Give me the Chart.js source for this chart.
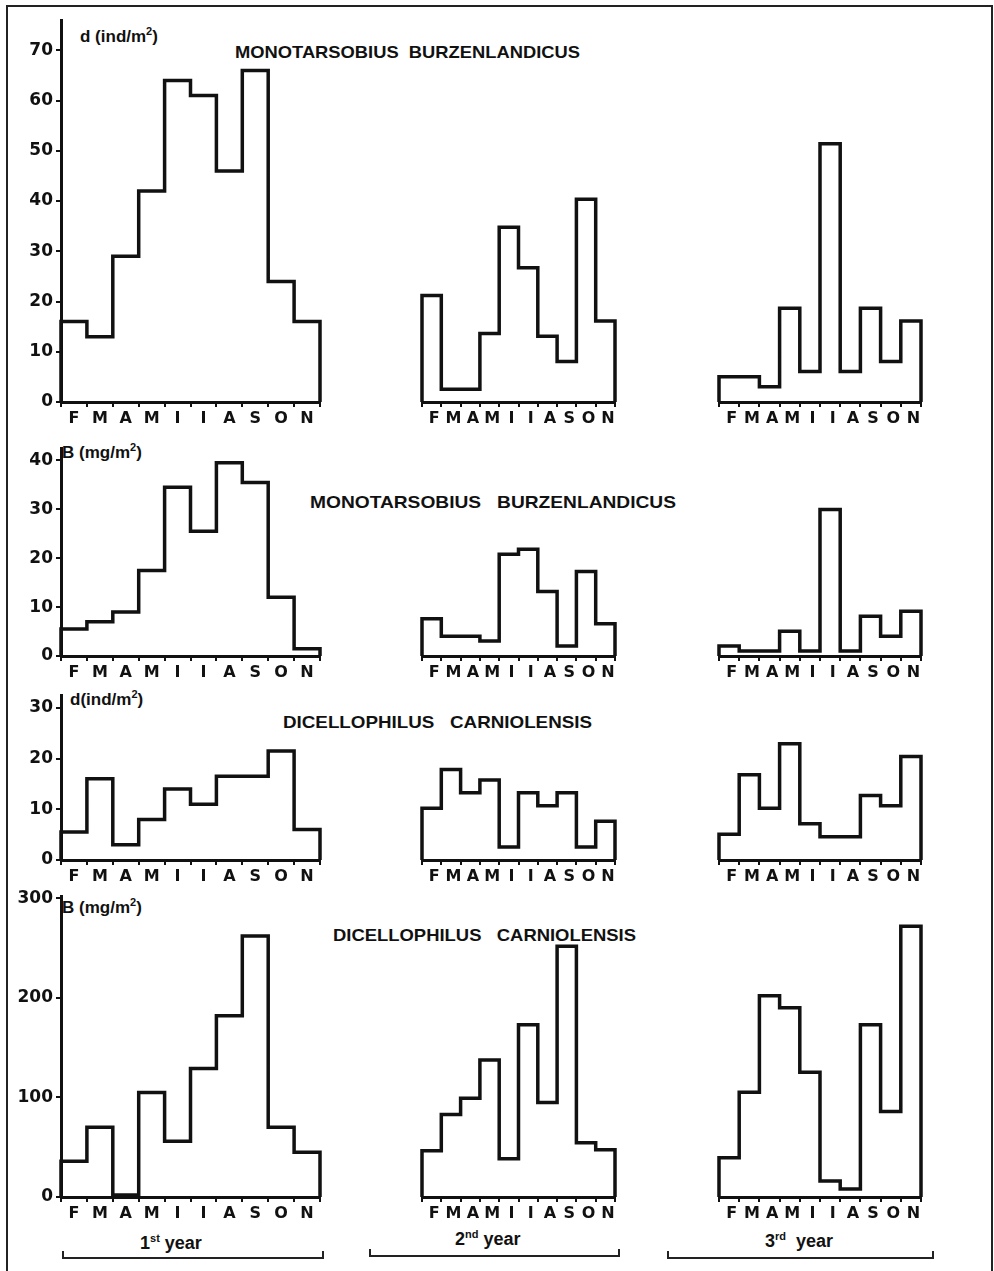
<!DOCTYPE html>
<html>
<head>
<meta charset="utf-8">
<script src="https://cdn.jsdelivr.net/npm/chart.js@4.4.0/dist/chart.umd.min.js"></script>
<style>
  body { margin: 0; background: #fff; }
  #page { position: relative; width: 994px; height: 1271px; overflow: hidden; background: #fff; color: #111; font-family: "Liberation Sans", "DejaVu Sans", sans-serif; }
  .frame { position: absolute; left: 6px; top: 5px; width: 987px; height: 1300px; border: 2px solid #222; box-sizing: border-box; }
  .panel { position: absolute; }
  .txt { position: absolute; white-space: pre; font-weight: bold; line-height: 1; transform-origin: left top; }
  .title { font-size: 17px; }
  .unit { font-size: 17px; }
  .unit sup, .year sup { font-size: 11px; vertical-align: 7px; }
  .year { font-size: 18px; font-weight: bold; }
  .bracket { position: absolute; height: 6px; border: 2px solid #222; border-top: none; }
</style>
</head>
<body>
<div id="page">
  <div class="frame"></div>

  <div class="txt unit" style="left:80px; top:26px;">d (ind/m<sup>2</sup>)</div>
  <div class="txt title" data-w="345" style="left:235px; top:44px;">MONOTARSOBIUS  BURZENLANDICUS</div>

  <div class="txt unit" style="left:62px; top:442px;">B (mg/m<sup>2</sup>)</div>
  <div class="txt title" data-w="366" style="left:310px; top:494px;">MONOTARSOBIUS   BURZENLANDICUS</div>

  <div class="txt unit" style="left:70px; top:689px;">d(ind/m<sup>2</sup>)</div>
  <div class="txt title" data-w="309" style="left:283px; top:714px;">DICELLOPHILUS   CARNIOLENSIS</div>

  <div class="txt unit" style="left:62px; top:897px;">B (mg/m<sup>2</sup>)</div>
  <div class="txt title" data-w="303" style="left:333px; top:927px;">DICELLOPHILUS   CARNIOLENSIS</div>

  <div class="txt year" style="left:140px; top:1233px;">1<sup>st</sup> year</div>
  <div class="txt year" style="left:455px; top:1229px;">2<sup>nd</sup> year</div>
  <div class="txt year" style="left:765px; top:1231px;">3<sup>rd</sup>  year</div>
  <div class="bracket" style="left:62px; top:1251px; width:258px;"></div>
  <div class="bracket" style="left:369px; top:1249px; width:247px;"></div>
  <div class="bracket" style="left:667px; top:1251px; width:263px;"></div>
</div>

<script>
// months (I = Iunie / Iulie)
const months = ['F', 'M', 'A', 'M', 'I', 'I', 'A', 'S', 'O', 'N'];

// Monotarsobius burzenlandicus, density d (ind/m2)
const densMonoY1 = [16, 13, 29, 42, 64, 61, 46, 66, 24, 16];
const densMonoY2 = [21, 2.5, 2.5, 13.5, 34.5, 26.5, 13, 8, 40, 16];
const densMonoY3 = [5, 5, 3, 18.5, 6, 51, 6, 18.5, 8, 16];

// Monotarsobius burzenlandicus, biomass B (mg/m2)
const bioMonoY1 = [5.5, 7, 9, 17.5, 34.5, 25.5, 39.5, 35.5, 12, 1.5];
const bioMonoY2 = [7.5, 4, 4, 3, 20.5, 21.5, 13, 2, 17, 6.5];
const bioMonoY3 = [2, 1, 1, 5, 1, 29.5, 1, 8, 4, 9];

// Dicellophilus carniolensis, density d (ind/m2)
const densDiceY1 = [5.5, 16, 3, 8, 14, 11, 16.5, 16.5, 21.5, 6];
const densDiceY2 = [10, 17.5, 13, 15.5, 2.5, 13, 10.5, 13, 2.5, 7.5];
const densDiceY3 = [5, 16.5, 10, 22.5, 7, 4.5, 4.5, 12.5, 10.5, 20];

// Dicellophilus carniolensis, biomass B (mg/m2)
const bioDiceY1 = [36, 70, 2, 105, 56, 129, 182, 262, 70, 45];
const bioDiceY2 = [46, 82, 98, 136, 38, 171, 94, 249, 54, 47];
const bioDiceY3 = [39, 104, 200, 188, 124, 16, 8, 171, 85, 269];

// y tick labels per row
const ticksDensMono = [0, 10, 20, 30, 40, 50, 60, 70];
const ticksBioMono = [0, 10, 20, 30, 40];
const ticksDensDice = [0, 10, 20, 30];
const ticksBioDice = [0, 100, 200, 300];

// page layout: plot area of each row / column in pixels
const rows = [
  { top: 17,  base: 402,  max: 76,   ticks: ticksDensMono, data: [densMonoY1, densMonoY2, densMonoY3] },
  { top: 445, base: 656,  max: 42.5, ticks: ticksBioMono,  data: [bioMonoY1, bioMonoY2, bioMonoY3] },
  { top: 692, base: 860,  max: 32.5, ticks: ticksDensDice, data: [densDiceY1, densDiceY2, densDiceY3] },
  { top: 893, base: 1197, max: 302,  ticks: ticksBioDice,  data: [bioDiceY1, bioDiceY2, bioDiceY3] }
];
const cols = [
  { left: 61,  right: 320 },
  { left: 370, right: 615 },
  { left: 667, right: 921 }
];

const INK = '#111';
const Y_AXIS_W = 52;
const X_AXIS_H = 30;
const PAD = 10;

// outline of a step histogram: up at the first edge, across each month, down at the last edge
function stepOutline(vals) {
  const pts = [{ x: 0, y: 0 }];
  vals.forEach((v, i) => pts.push({ x: i, y: v }));
  pts.push({ x: vals.length, y: vals[vals.length - 1] });
  pts.push({ x: vals.length, y: 0 });
  return pts;
}

function makePanel(row, col, ci) {
  const showY = ci === 0;
  const plotW = col.right - col.left;
  const plotH = row.base - row.top;
  const leftSpace = showY ? Y_AXIS_W : PAD;

  const wrap = document.createElement('div');
  wrap.className = 'panel';
  wrap.style.left = (col.left - leftSpace) + 'px';
  wrap.style.top = (row.top - PAD) + 'px';
  const canvas = document.createElement('canvas');
  canvas.width = leftSpace + plotW + PAD;
  canvas.height = PAD + plotH + X_AXIS_H;
  wrap.appendChild(canvas);
  document.getElementById('page').appendChild(wrap);

  const vals = row.data[ci];
  const binW = plotW / vals.length;

  new Chart(canvas, {
    type: 'line',
    data: {
      datasets: [{
        data: stepOutline(vals),
        stepped: true,
        borderColor: INK,
        borderWidth: 3.5,
        pointRadius: 0,
        fill: false,
        clip: false
      }]
    },
    options: {
      responsive: false,
      animation: false,
      layout: { padding: { left: showY ? 0 : PAD, right: PAD, top: PAD, bottom: 0 } },
      plugins: { legend: { display: false }, tooltip: { enabled: false } },
      scales: {
        x: {
          type: 'linear',
          min: 0,
          max: vals.length,
          afterBuildTicks: s => { s.ticks = months.map((m, i) => ({ value: i })).concat([{ value: vals.length }]); },
          afterFit: s => { s.height = X_AXIS_H; },
          border: { display: true, color: INK, width: 3 },
          grid: { drawOnChartArea: false, drawTicks: true, tickLength: 5, color: INK, lineWidth: 2 },
          ticks: {
            autoSkip: false,
            maxRotation: 0,
            minRotation: 0,
            padding: 2,
            labelOffset: binW / 2,
            color: INK,
            font: { family: 'DejaVu Sans', size: 16, weight: 'bold' },
            callback: v => months[v] || ''
          }
        },
        y: {
          display: showY,
          min: 0,
          max: row.max,
          afterBuildTicks: s => { s.ticks = row.ticks.map(v => ({ value: v })); },
          afterFit: s => { s.width = Y_AXIS_W; },
          border: { display: true, color: INK, width: 3 },
          grid: { drawOnChartArea: false, drawTicks: true, tickLength: 5, color: INK, lineWidth: 2 },
          ticks: {
            padding: 3,
            color: INK,
            font: { family: 'DejaVu Sans', size: 17, weight: 'bold' }
          }
        }
      }
    }
  });
}

rows.forEach(row => cols.forEach((col, ci) => makePanel(row, col, ci)));

// squeeze the species names to the width they have in the figure
document.querySelectorAll('.title').forEach(el => {
  const target = parseFloat(el.dataset.w);
  const w = el.getBoundingClientRect().width;
  el.style.transform = 'scaleX(' + (target / w) + ')';
});
</script>
</body>
</html>
